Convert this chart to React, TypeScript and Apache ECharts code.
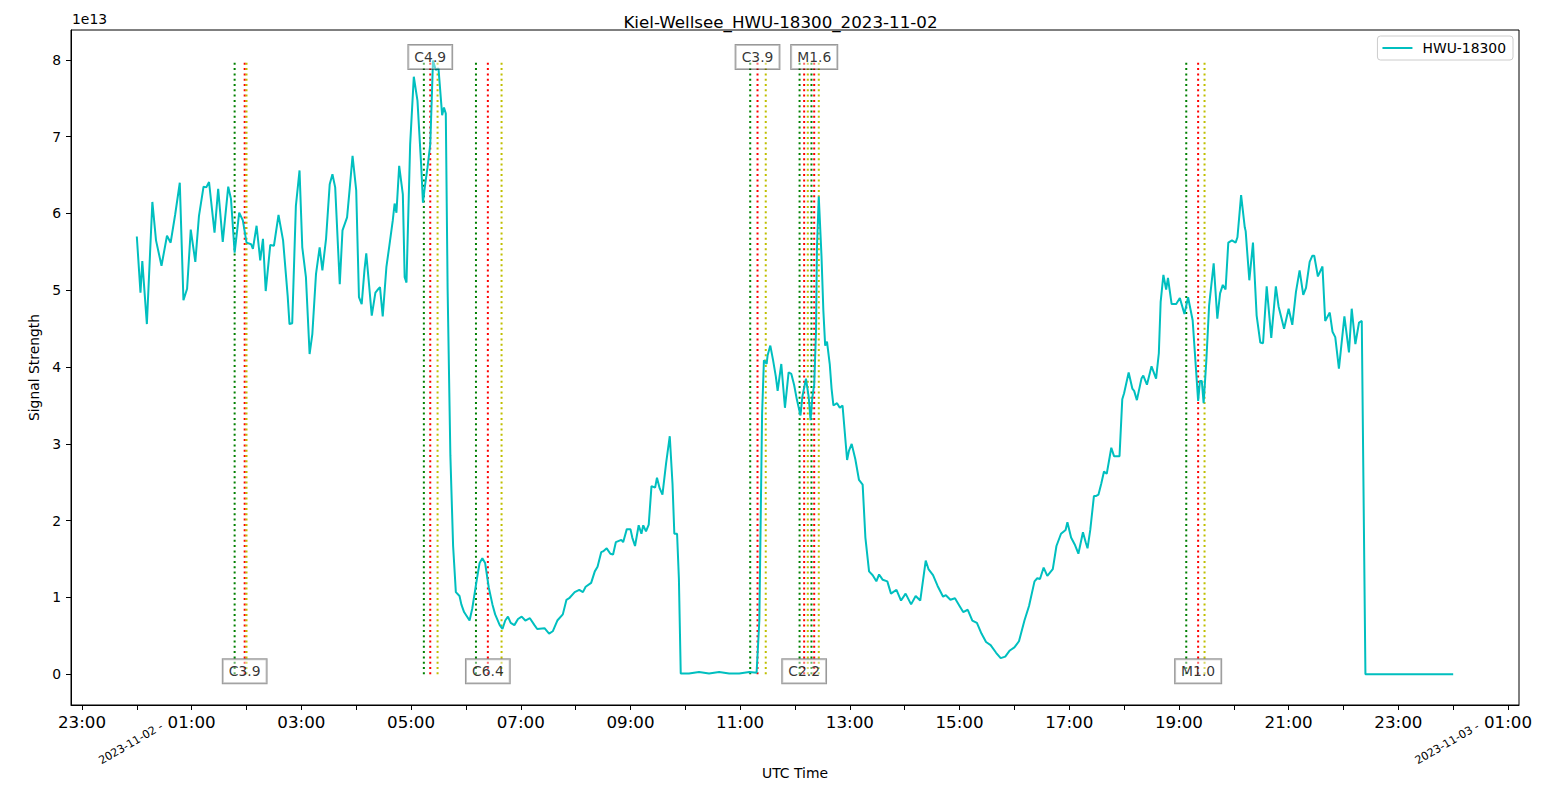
import React, { useEffect, useRef } from "react";
import * as echarts from "echarts";

// time in minutes after 2023-11-02 00:00 UTC
const minutes = [
  0, 4, 6, 11, 17, 21, 27, 33, 37, 42, 47, 51, 55, 59, 64, 68, 73, 76, 79, 85,
  89, 94, 100, 103, 107, 112, 116, 120, 125, 127, 131, 135, 138, 141, 146, 150, 155, 160, 165, 167,
  170, 174, 178, 181, 185, 189, 192, 196, 200, 203, 207, 211, 214, 217, 222, 225, 230, 233, 236, 240,
  243, 246, 249, 251, 254, 257, 261, 263, 266, 269, 273, 276, 280, 282, 284, 287, 291, 293, 295, 299,
  303, 307, 311, 313, 315, 318, 321, 324, 327, 330, 334, 336, 338, 340, 343, 346, 349, 353, 355, 358,
  364, 367, 372, 375, 378, 381, 385, 389, 392, 397, 400, 403, 406, 409, 413, 417, 421, 425, 430, 435,
  438, 446, 451, 455, 460, 466, 470, 473, 479, 484, 488, 491, 497, 501, 504, 508, 510, 514, 518, 521,
  524, 530, 532, 536, 540, 542, 545, 549, 552, 554, 557, 560, 563, 567, 569, 572, 575, 579, 583, 586,
  588, 591, 593, 595, 604, 615, 626, 637, 648, 659, 670, 678, 681, 684, 686, 689, 690, 693, 696, 699,
  701, 705, 709, 713, 716, 719, 722, 726, 728, 732, 735, 737, 739, 741, 743, 744, 746, 749, 751, 753,
  755, 758, 760, 762, 766, 769, 772, 777, 779, 782, 786, 790, 794, 797, 801, 805, 809, 812, 816, 821,
  825, 831, 836, 841, 847, 852, 857, 863, 866, 871, 876, 882, 885, 890, 895, 900, 904, 909, 914, 919,
  924, 929, 934, 940, 945, 950, 955, 960, 965, 971, 976, 982, 985, 988, 992, 996, 1002, 1006, 1011, 1016,
  1018, 1022, 1026, 1030, 1035, 1038, 1040, 1043, 1047, 1049, 1052, 1055, 1058, 1061, 1066, 1069, 1075, 1078, 1080, 1085,
  1089, 1091, 1094, 1099, 1101, 1105, 1110, 1115, 1118, 1120, 1123, 1126, 1128, 1132, 1137, 1141, 1146, 1150, 1155, 1161,
  1163, 1165, 1167, 1170, 1173, 1178, 1182, 1185, 1188, 1191, 1194, 1198, 1202, 1204, 1208, 1212, 1213, 1217, 1221, 1225,
  1229, 1232, 1236, 1241, 1246, 1249, 1255, 1260, 1264, 1268, 1272, 1276, 1279, 1283, 1286, 1288, 1292, 1297, 1300, 1305,
  1308, 1311, 1315, 1321, 1326, 1329, 1333, 1337, 1340, 1344, 1440,
];

// signal strength in units of 1e13
const signal = [
  5.70, 4.97, 5.38, 4.56, 6.15, 5.65, 5.32, 5.71, 5.62, 5.99, 6.40, 4.87, 5.02, 5.79, 5.37, 5.97, 6.35, 6.34, 6.41, 5.75,
  6.32, 5.63, 6.35, 6.19, 5.49, 6.01, 5.91, 5.62, 5.60, 5.54, 5.84, 5.39, 5.67, 4.99, 5.59, 5.58, 5.98, 5.65, 4.93, 4.56,
  4.57, 6.10, 6.56, 5.56, 5.17, 4.17, 4.43, 5.21, 5.56, 5.26, 5.67, 6.38, 6.51, 6.34, 5.08, 5.78, 5.95, 6.34, 6.75, 6.30,
  4.91, 4.82, 5.26, 5.48, 5.08, 4.67, 4.97, 5.00, 5.04, 4.66, 5.30, 5.56, 5.91, 6.13, 6.01, 6.62, 6.25, 5.17, 5.10, 6.90,
  7.78, 7.47, 6.64, 6.14, 6.34, 6.60, 6.90, 7.99, 7.87, 7.89, 7.28, 7.38, 7.30, 5.01, 2.85, 1.67, 1.07, 1.02, 0.91, 0.81,
  0.70, 0.86, 1.24, 1.45, 1.51, 1.45, 1.13, 0.91, 0.78, 0.64, 0.59, 0.70, 0.75, 0.67, 0.64, 0.72, 0.75, 0.70, 0.73, 0.64,
  0.59, 0.60, 0.53, 0.56, 0.70, 0.78, 0.97, 0.99, 1.07, 1.10, 1.07, 1.14, 1.19, 1.34, 1.40, 1.59, 1.60, 1.64, 1.57, 1.56,
  1.72, 1.75, 1.72, 1.89, 1.89, 1.78, 1.67, 1.94, 1.83, 1.94, 1.86, 1.95, 2.45, 2.43, 2.56, 2.42, 2.34, 2.75, 3.10, 2.48,
  1.83, 1.83, 1.24, 0.01, 0.01, 0.03, 0.01, 0.03, 0.01, 0.01, 0.03, 0.02, 0.70, 3.39, 4.09, 4.04, 4.15, 4.28, 4.09, 3.88,
  3.69, 4.04, 3.47, 3.93, 3.91, 3.77, 3.58, 3.37, 3.61, 3.85, 3.61, 3.31, 3.61, 3.77, 4.47, 5.55, 6.22, 5.44, 4.74, 4.28,
  4.33, 4.04, 3.72, 3.50, 3.53, 3.47, 3.50, 2.79, 2.91, 3.00, 2.80, 2.53, 2.47, 1.78, 1.34, 1.29, 1.21, 1.30, 1.23, 1.21,
  1.05, 1.10, 0.96, 1.05, 0.91, 1.02, 0.96, 1.48, 1.37, 1.29, 1.15, 1.01, 1.03, 0.97, 0.99, 0.89, 0.81, 0.84, 0.70, 0.67,
  0.53, 0.42, 0.38, 0.28, 0.21, 0.23, 0.31, 0.35, 0.43, 0.70, 0.89, 1.21, 1.25, 1.24, 1.39, 1.28, 1.37, 1.67, 1.83, 1.88,
  1.98, 1.78, 1.69, 1.57, 1.85, 1.72, 1.64, 1.88, 2.32, 2.32, 2.34, 2.48, 2.64, 2.61, 2.95, 2.84, 2.84, 3.58, 3.66, 3.93,
  3.72, 3.69, 3.57, 3.85, 3.89, 3.77, 4.01, 3.85, 4.18, 4.85, 5.20, 5.01, 5.16, 4.82, 4.82, 4.90, 4.69, 4.91, 4.61, 3.56,
  3.82, 3.82, 3.53, 4.09, 4.80, 5.35, 4.63, 4.96, 5.07, 5.01, 5.62, 5.65, 5.62, 5.69, 6.24, 5.82, 5.77, 5.13, 5.62, 4.67,
  4.32, 4.31, 5.05, 4.38, 5.05, 4.79, 4.50, 4.76, 4.55, 4.98, 5.26, 4.94, 5.03, 5.37, 5.45, 5.45, 5.18, 5.31, 4.60, 4.71,
  4.46, 4.39, 3.98, 4.66, 4.19, 4.76, 4.30, 4.58, 4.60, 0.00, 0.00,
];

const seriesName = "HWU-18300";
const chartTitle = "Kiel-Wellsee_HWU-18300_2023-11-02";

// flares (minutes after 2023-11-02 00:00)
const flareNames = ["C3.9", "C4.9", "C6.4", "C3.9", "C2.2", "M1.6", "M1.0"];
const flareStart = [107, 314, 371, 671, 725, 738, 1148];
const flarePeak = [118, 321, 384, 679, 730, 741, 1161];
const flareEnd = [120, 329, 399, 688, 734, 746, 1168];
const flareLabelLevel = [0, 8, 0, 8, 0, 8, 0];
const flareLineTop = 8;

const xTickMinutes = [
  -60, 0, 60, 120, 180, 240, 300, 360, 420, 480, 540, 600, 660, 720, 780, 840, 900,
  960, 1020, 1080, 1140, 1200, 1260, 1320, 1380, 1440, 1500,
];
const xLabelMinutes = [-60, 60, 180, 300, 420, 540, 660, 780, 900, 1020, 1140, 1260, 1380, 1500];
const dateLabelMinutes = [0, 1440];
const dateLabels = ["2023-11-02 -", "2023-11-03 -"];
const yTicks = [0, 1, 2, 3, 4, 5, 6, 7, 8];

const FONT = "DejaVu Sans";

function hourLabel(v: number): string {
  const h = ((Math.round(v / 60) % 24) + 24) % 24;
  return (h < 10 ? "0" + h : "" + h) + ":00";
}

export default function App() {
  const ref = useRef<HTMLDivElement>(null);
  useEffect(() => {
    if (!ref.current) return;
    const chart = echarts.init(ref.current, undefined, { renderer: "svg" });

    const flareLineSeries: any[] = [];
    const colors = ["#008000", "#ff0000", "#bfbf00"];
    flareNames.forEach((_, i) => {
      [flareStart[i], flarePeak[i], flareEnd[i]].forEach((t, k) => {
        flareLineSeries.push({
          type: "line",
          name: "flare-" + i + "-" + k,
          data: [
            [t, 0],
            [t, flareLineTop],
          ],
          showSymbol: false,
          silent: true,
          z: 2,
          lineStyle: { color: colors[k], width: 2, type: [2, 3.3] },
        });
      });
    });

    const option: any = {
      animation: false,
      backgroundColor: "#ffffff",
      textStyle: { fontFamily: FONT },
      title: {
        text: chartTitle,
        left: "center",
        top: 13,
        padding: 0,
        textStyle: { fontFamily: FONT, fontSize: 16.7, fontWeight: "normal", color: "#000" },
      },
      legend: {
        data: [seriesName],
        right: 48,
        top: 36,
        icon: "rect",
        itemWidth: 30,
        itemHeight: 2,
        borderColor: "#cccccc",
        borderWidth: 1,
        borderRadius: 3,
        backgroundColor: "#ffffff",
        padding: [5, 7, 5, 5],
        itemStyle: { color: "#00bfbf" },
        textStyle: { fontFamily: FONT, fontSize: 13.9, color: "#000", padding: [0, 0, 0, 5] },
      },
      grid: {
        left: 71,
        right: 42,
        top: 30,
        bottom: 87,
        show: true,
        borderColor: "#000",
        borderWidth: 1,
        backgroundColor: "transparent",
        containLabel: false,
        outerBoundsMode: "none",
      },
      graphic: [
        {
          type: "text",
          left: 72,
          top: 12,
          style: { text: "1e13", fontFamily: FONT, fontSize: 13.9, fill: "#000" },
        },
      ],
      xAxis: [
        {
          type: "value",
          min: -72,
          max: 1512,
          position: "bottom",
          axisLine: { show: true, onZero: false, lineStyle: { color: "#000", width: 1 } },
          axisTick: {
            show: true,
            customValues: xTickMinutes,
            length: 5,
            lineStyle: { color: "#000", width: 1 },
          },
          axisLabel: {
            customValues: xLabelMinutes,
            formatter: (v: number) => hourLabel(v),
            fontFamily: FONT,
            fontSize: 16.7,
            color: "#000",
            margin: 8,
          },
          splitLine: { show: false },
          name: "UTC Time",
          nameLocation: "middle",
          nameGap: 61,
          nameTextStyle: { fontFamily: FONT, fontSize: 13.9, color: "#000" },
        },
        {
          type: "value",
          min: -72,
          max: 1512,
          position: "bottom",
          axisLine: { show: false },
          axisTick: { show: false },
          splitLine: { show: false },
          axisLabel: {
            customValues: dateLabelMinutes,
            formatter: (v: number) => dateLabels[dateLabelMinutes.indexOf(v)] ?? "",
            rotate: 30,
            align: "center",
            verticalAlign: "middle",
            margin: 35,
            padding: [0, 14, 0, 0],
            fontFamily: FONT,
            fontSize: 11.1,
            color: "#000",
          },
        },
      ],
      yAxis: {
        type: "value",
        min: -0.4,
        max: 8.389,
        axisLine: { show: true, onZero: false, lineStyle: { color: "#000", width: 1 } },
        axisTick: { show: true, customValues: yTicks, length: 5, lineStyle: { color: "#000", width: 1 } },
        axisLabel: {
          customValues: yTicks,
          formatter: (v: number) => String(v),
          fontFamily: FONT,
          fontSize: 13.9,
          color: "#000",
          margin: 10,
        },
        splitLine: { show: false },
        name: "Signal Strength",
        nameLocation: "middle",
        nameGap: 26,
        nameRotate: 90,
        nameTextStyle: { fontFamily: FONT, fontSize: 13.9, color: "#000" },
      },
      series: [
        ...flareLineSeries,
        {
          type: "line",
          name: seriesName,
          data: minutes.map((m, i) => [m, signal[i]]),
          showSymbol: false,
          z: 3,
          color: "#00bfbf",
          lineStyle: { color: "#00bfbf", width: 2 },
        },
        {
          type: "scatter",
          name: "flare-labels",
          z: 5,
          symbolSize: 1,
          itemStyle: { color: "rgba(0,0,0,0)" },
          silent: true,
          data: flareNames.map((n, i) => [flarePeak[i], flareLabelLevel[i], n]),
          label: {
            show: true,
            position: "inside",
            formatter: (p: any) => p.data[2],
            fontFamily: FONT,
            fontSize: 13.9,
            color: "#000",
            lineHeight: 16,
            backgroundColor: "rgba(255,255,255,0.5)",
            borderColor: "rgba(0,0,0,0.5)",
            borderWidth: 1,
            padding: [4, 6, 4, 6],
            offset: [0, -3],
          },
        },
      ],
    };
    chart.setOption(option);
    return () => chart.dispose();
  }, []);
  return (
    <div
      ref={ref}
      style={{ position: "absolute", left: 0, top: 0, width: 1561, height: 792 }}
    />
  );
}
